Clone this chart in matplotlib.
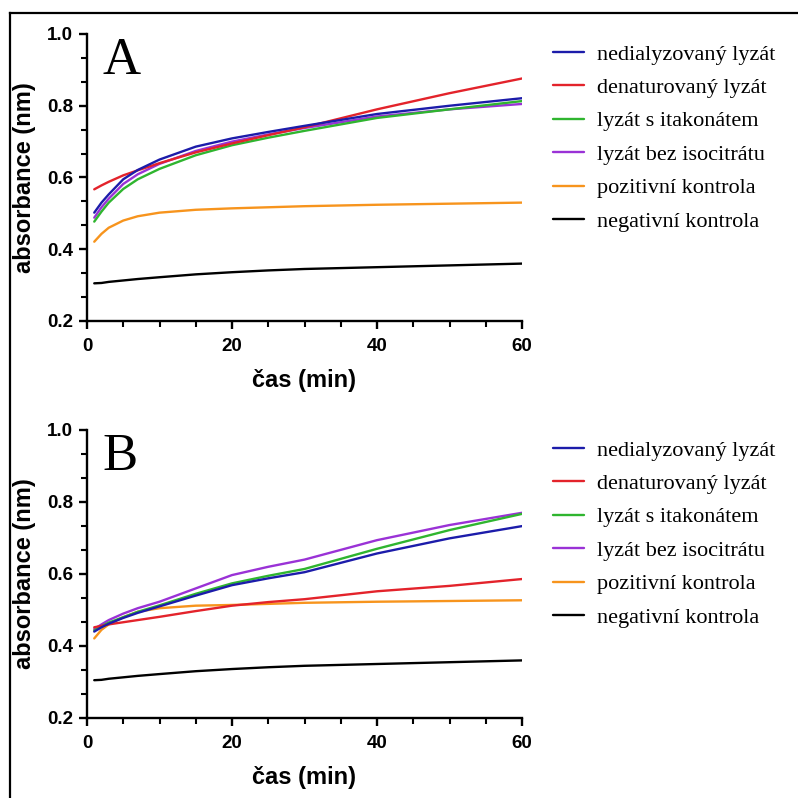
import numpy as np
import matplotlib
matplotlib.use("Agg")
import matplotlib.pyplot as plt
from matplotlib.ticker import MultipleLocator, AutoMinorLocator, FormatStrFormatter
from matplotlib.lines import Line2D

# ── Data (absorbance vs. time) ───────────────────────────────────────────────
time_min = [1, 2, 3, 5, 7, 10, 15, 20, 25, 30, 40, 50, 60]

labels = ["nedialyzovaný lyzát", "denaturovaný lyzát", "lyzát s itakonátem",
          "lyzát bez isocitrátu", "pozitivní kontrola", "negativní kontrola"]
colors = ["#1c1caa", "#e3232b", "#2fb52f", "#9a32d6", "#f7941d", "#000000"]

# panel A
a_nedial = [0.502, 0.530, 0.553, 0.595, 0.621, 0.650, 0.686, 0.709, 0.727, 0.744, 0.777, 0.800, 0.821]
a_denat  = [0.567, 0.578, 0.588, 0.606, 0.620, 0.640, 0.670, 0.695, 0.718, 0.740, 0.790, 0.835, 0.876]
a_itakon = [0.477, 0.505, 0.530, 0.568, 0.595, 0.624, 0.662, 0.690, 0.711, 0.730, 0.766, 0.790, 0.813]
a_bezizo = [0.488, 0.517, 0.541, 0.582, 0.609, 0.638, 0.674, 0.700, 0.720, 0.738, 0.770, 0.790, 0.805]
a_pozit  = [0.421, 0.443, 0.460, 0.480, 0.492, 0.502, 0.510, 0.514, 0.517, 0.520, 0.524, 0.527, 0.530]
a_negat  = [0.305, 0.306, 0.309, 0.313, 0.317, 0.322, 0.330, 0.336, 0.341, 0.345, 0.350, 0.355, 0.360]

# panel B
b_nedial = [0.440, 0.452, 0.462, 0.478, 0.492, 0.510, 0.540, 0.569, 0.588, 0.605, 0.657, 0.699, 0.733]
b_denat  = [0.452, 0.456, 0.460, 0.466, 0.472, 0.481, 0.497, 0.512, 0.522, 0.530, 0.552, 0.567, 0.586]
b_itakon = [0.443, 0.455, 0.465, 0.480, 0.495, 0.513, 0.545, 0.574, 0.595, 0.614, 0.670, 0.722, 0.767]
b_bezizo = [0.447, 0.460, 0.472, 0.490, 0.505, 0.523, 0.560, 0.597, 0.620, 0.640, 0.694, 0.736, 0.770]
b_pozit  = [0.421, 0.445, 0.460, 0.480, 0.495, 0.505, 0.512, 0.514, 0.517, 0.520, 0.523, 0.525, 0.527]
b_negat  = [0.305, 0.306, 0.309, 0.313, 0.317, 0.322, 0.330, 0.336, 0.341, 0.345, 0.350, 0.355, 0.360]

panels = [
    ("A", [a_nedial, a_denat, a_itakon, a_bezizo, a_pozit, a_negat]),
    ("B", [b_nedial, b_denat, b_itakon, b_bezizo, b_pozit, b_negat]),
]

SANS = "Liberation Sans"
SERIF = "Liberation Serif"

fig = plt.figure(figsize=(7.98, 7.98), dpi=100)

# outer frame (left + top edge)
fig.add_artist(Line2D([10 / 798, 10 / 798], [0, 1 - 13 / 798],
                      color="black", lw=1.6, transform=fig.transFigure))
fig.add_artist(Line2D([10 / 798, 1], [1 - 13 / 798, 1 - 13 / 798],
                      color="black", lw=1.6, transform=fig.transFigure))

axes_rects = [
    [87 / 798, 1 - 321 / 798, 435 / 798, 287 / 798],
    [87 / 798, 1 - 718 / 798, 435 / 798, 288 / 798],
]
legend_tops = [1 - 44 / 798, 1 - 440 / 798]

draw_order = [5, 4, 3, 2, 1, 0]

for (letter, series), rect, leg_top in zip(panels, axes_rects, legend_tops):
    ax = fig.add_axes(rect)
    handles = {}
    for i in draw_order:
        line, = ax.plot(time_min, series[i], color=colors[i], lw=1.7,
                        label=labels[i], solid_capstyle="round")
        handles[i] = line

    ax.set_xlim(0, 60)
    ax.set_ylim(0.2, 1.0)
    ax.xaxis.set_major_locator(MultipleLocator(20))
    ax.xaxis.set_minor_locator(AutoMinorLocator(4))
    ax.yaxis.set_major_locator(MultipleLocator(0.2))
    ax.yaxis.set_minor_locator(AutoMinorLocator(3))
    ax.yaxis.set_major_formatter(FormatStrFormatter("%.1f"))

    for side in ("top", "right"):
        ax.spines[side].set_visible(False)
    for side in ("left", "bottom"):
        ax.spines[side].set_linewidth(1.7)

    ax.tick_params(which="major", direction="out", length=6, width=1.7,
                   labelsize=13.5)
    ax.tick_params(which="minor", direction="out", length=4, width=1.5)
    ax.tick_params(axis="x", which="major", pad=6)
    ax.tick_params(axis="y", which="major", pad=4)
    for lab in ax.get_xticklabels() + ax.get_yticklabels():
        lab.set_fontfamily(SANS)
        lab.set_fontweight("bold")

    ax.set_xlabel("čas (min)", fontfamily=SANS, fontweight="bold",
                  fontsize=17, labelpad=10)
    ax.set_ylabel("absorbance (nm)", fontfamily=SANS, fontweight="bold",
                  fontsize=17, labelpad=8)

    ax.text(0.035, 0.99, letter, transform=ax.transAxes, fontfamily=SERIF,
            fontsize=38, va="top", ha="left")

    fig.legend([handles[i] for i in range(6)], labels,
               loc="upper left", bbox_to_anchor=(553 / 798, leg_top),
               frameon=False, prop={"family": SERIF, "size": 16},
               handlelength=1.4, handletextpad=0.6, labelspacing=0.58,
               borderaxespad=0, borderpad=0)

fig.savefig("out.png", dpi=100)
